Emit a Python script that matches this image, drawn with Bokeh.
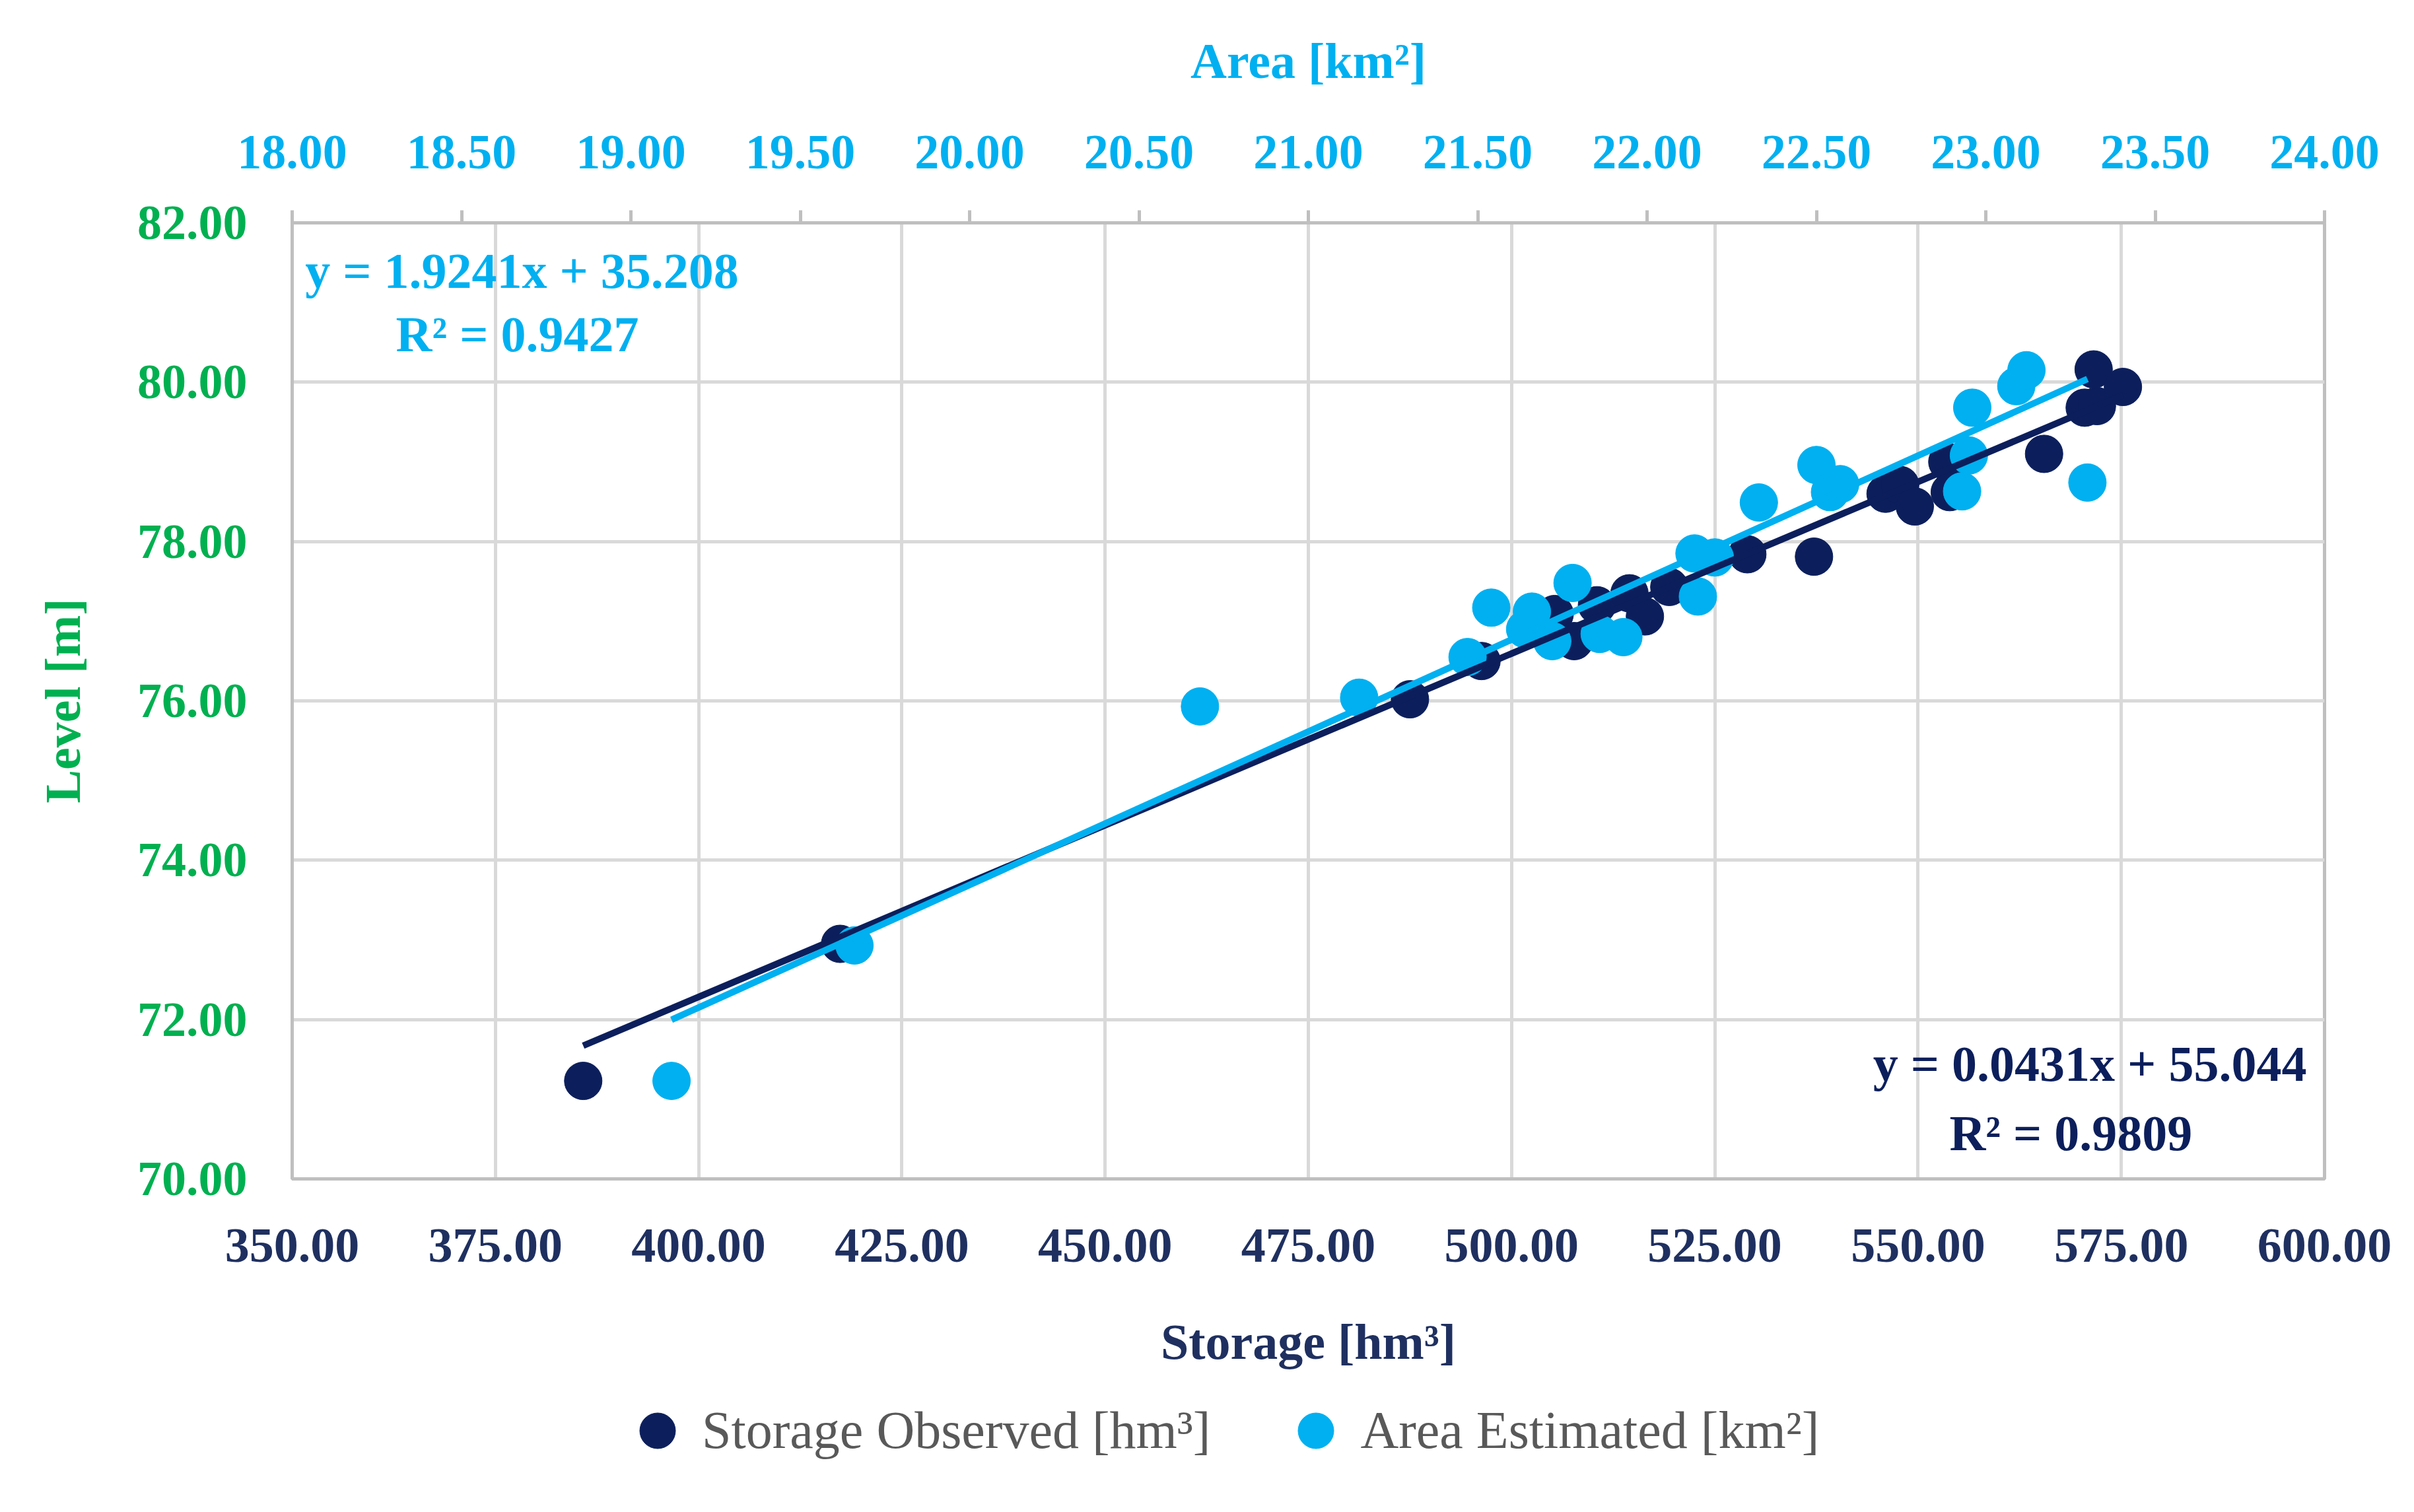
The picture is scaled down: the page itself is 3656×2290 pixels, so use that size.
from bokeh.plotting import figure
from bokeh.layouts import column
from bokeh.models import (Range1d, LinearAxis, FixedTicker, NumeralTickFormatter,
                          Legend, LegendItem, Label)
from bokeh.embed import file_html
from bokeh.resources import INLINE

# ---------------- data ----------------
storage_obs = [385.8, 417.4, 487.5, 496.3, 505.3, 507.7, 510.5, 514.5, 516.4, 519.4,
               529.0, 537.2, 546.0, 547.8, 549.6, 553.6, 553.9, 565.5, 570.5, 572.0,
               571.6, 575.2]
storage_lvl = [71.23, 72.95, 76.02, 76.50, 77.09, 76.75, 77.20, 77.35, 77.06, 77.43,
               77.84, 77.81, 78.60, 78.71, 78.44, 79.00, 78.62, 79.10, 79.68, 79.70,
               80.16, 79.94]
area_est = [19.12, 19.66, 20.68, 21.15, 21.47, 21.54, 21.64, 21.66, 21.72, 21.78,
            21.86, 21.93, 22.15, 22.14, 22.20, 22.33, 22.50, 22.54, 22.57, 22.93,
            22.95, 22.96, 23.09, 23.12, 23.30]
area_lvl = [71.23, 72.93, 75.93, 76.04, 76.55, 77.17, 76.90, 77.12, 76.75, 77.48,
            76.84, 76.80, 77.31, 77.85, 77.80, 78.49, 78.96, 78.62, 78.72, 78.63,
            79.08, 79.68, 79.95, 80.15, 78.74]
storage_fit = (0.0431, 55.044)   # slope, intercept
area_fit = (1.9241, 35.208)
storage_ticks = [350, 375, 400, 425, 450, 475, 500, 525, 550, 575, 600]
area_ticks = [18.0, 18.5, 19.0, 19.5, 20.0, 20.5, 21.0, 21.5, 22.0, 22.5, 23.0, 23.5, 24.0]
level_ticks = [70, 72, 74, 76, 78, 80, 82]
series_names = ["Storage Observed [hm³]", "Area Estimated [km²]"]

# ---------------- style ----------------
FONT = "Liberation Serif"
DARK = "#0c1f5c"
LIGHT = "#00b0f0"
GREEN = "#00b050"
NAVY_TXT = "#1f3060"
GRID = "#d9d9d9"
AXIS = "#bfbfbf"
FS = "74px"
W = 3640
H_MAIN = 2095
H_LEG = 2274 - H_MAIN

p = figure(width=W, height=H_MAIN, x_range=Range1d(350, 600), y_range=Range1d(70, 82),
           output_backend="svg", toolbar_location=None,
           min_border_left=442, min_border_right=120, min_border_top=337,
           min_border_bottom=H_MAIN - 1785)
p.extra_x_ranges = {"area": Range1d(18, 24)}
p.background_fill_color = "white"
p.border_fill_color = "white"
p.outline_line_color = AXIS
p.outline_line_width = 5

# bottom axis
xa = p.xaxis[0]
xa.ticker = FixedTicker(ticks=storage_ticks)
xa.formatter = NumeralTickFormatter(format="0.00")
xa.axis_label = "Storage [hm³]"

# top axis
ta = LinearAxis(x_range_name="area")
p.add_layout(ta, "above")
ta.ticker = FixedTicker(ticks=area_ticks)
ta.formatter = NumeralTickFormatter(format="0.00")
ta.axis_label = "Area [km²]"

# left axis
ya = p.yaxis[0]
ya.ticker = FixedTicker(ticks=level_ticks)
ya.formatter = NumeralTickFormatter(format="0.00")
ya.axis_label = "Level [m]"

for ax, col in [(xa, NAVY_TXT), (ta, LIGHT), (ya, GREEN)]:
    ax.major_label_text_font = FONT
    ax.major_label_text_font_size = FS
    ax.major_label_text_font_style = "bold"
    ax.major_label_text_color = col
    ax.axis_label_text_font = FONT
    ax.axis_label_text_font_size = "76px"
    ax.axis_label_text_font_style = "bold"
    ax.axis_label_text_color = col
    ax.minor_tick_line_color = None
    ax.axis_line_color = AXIS
    ax.axis_line_width = 5
    ax.major_tick_line_color = AXIS
    ax.major_tick_line_width = 5
    ax.major_tick_in = 0

xa.major_tick_out = 0
ya.major_tick_out = 0
ta.major_tick_out = 19
xa.major_label_standoff = 76
xa.axis_label_standoff = 76
ya.major_label_standoff = 68
ya.axis_label_standoff = 68
ta.major_label_standoff = 64
ta.axis_label_standoff = 69

p.xgrid.grid_line_color = GRID
p.xgrid.grid_line_width = 5
p.ygrid.grid_line_color = GRID
p.ygrid.grid_line_width = 5
p.xgrid.ticker = FixedTicker(ticks=storage_ticks)
p.ygrid.ticker = FixedTicker(ticks=level_ticks)

# ---------------- marks ----------------
r_dark = p.scatter(storage_obs, storage_lvl, size=57, marker="circle",
                   fill_color=DARK, line_color=DARK)
r_light = p.scatter(area_est, area_lvl, size=57, marker="circle",
                    fill_color=LIGHT, line_color=LIGHT, x_range_name="area")

sx = [min(storage_obs), max(storage_obs)]
p.line(sx, [storage_fit[0] * v + storage_fit[1] for v in sx], line_color=DARK, line_width=10)
ax_ = [min(area_est), max(area_est)]
p.line(ax_, [area_fit[0] * v + area_fit[1] for v in ax_], line_color=LIGHT, line_width=10,
       x_range_name="area")

# ---------------- annotations ----------------
def lab(x, y, txt, col, align):
    p.add_layout(Label(x=x, y=y, text=txt, text_color=col, text_font=FONT,
                       text_font_size="76px", text_font_style="bold",
                       text_align=align, text_baseline="middle"))

lab(351.6, 81.40, "y = 1.9241x + 35.208", LIGHT, "left")
lab(377.7, 80.60, "R² = 0.9427", LIGHT, "center")
lab(597.8, 71.45, "y = 0.0431x + 55.044", DARK, "right")
lab(568.8, 70.58, "R² = 0.9809", DARK, "center")

# ---------------- legend (separate strip below the chart) ----------------
# The strip's ranges are chosen so that its own copies of the series fall outside
# the visible area; only the legend is seen.
lf = figure(width=W, height=H_LEG, x_range=Range1d(0, 1), y_range=Range1d(0, 1),
            output_backend="svg", toolbar_location=None, min_border=0)
lf.axis.visible = False
lf.grid.visible = False
lf.outline_line_color = None
lf.background_fill_color = "white"
lf.border_fill_color = "white"
lr_dark = lf.scatter(storage_obs, storage_lvl, marker="circle", fill_color=DARK, line_color=DARK)
lr_light = lf.scatter(area_est, area_lvl, marker="circle", fill_color=LIGHT, line_color=LIGHT)

legend = Legend(items=[LegendItem(label=series_names[0], renderers=[lr_dark]),
                       LegendItem(label=series_names[1], renderers=[lr_light])],
                orientation="horizontal", location=(486, 40))
legend.label_text_font = FONT
legend.label_text_font_size = "80px"
legend.label_text_color = "#595959"
legend.border_line_color = None
legend.background_fill_alpha = 0
legend.glyph_width = 135
legend.glyph_height = 135
legend.label_height = 80
legend.label_standoff = 0
legend.spacing = 92
legend.padding = 0
legend.margin = 0
lf.add_layout(legend, "center")

open("out.html", "w").write(file_html(column(p, lf, spacing=0), INLINE))
